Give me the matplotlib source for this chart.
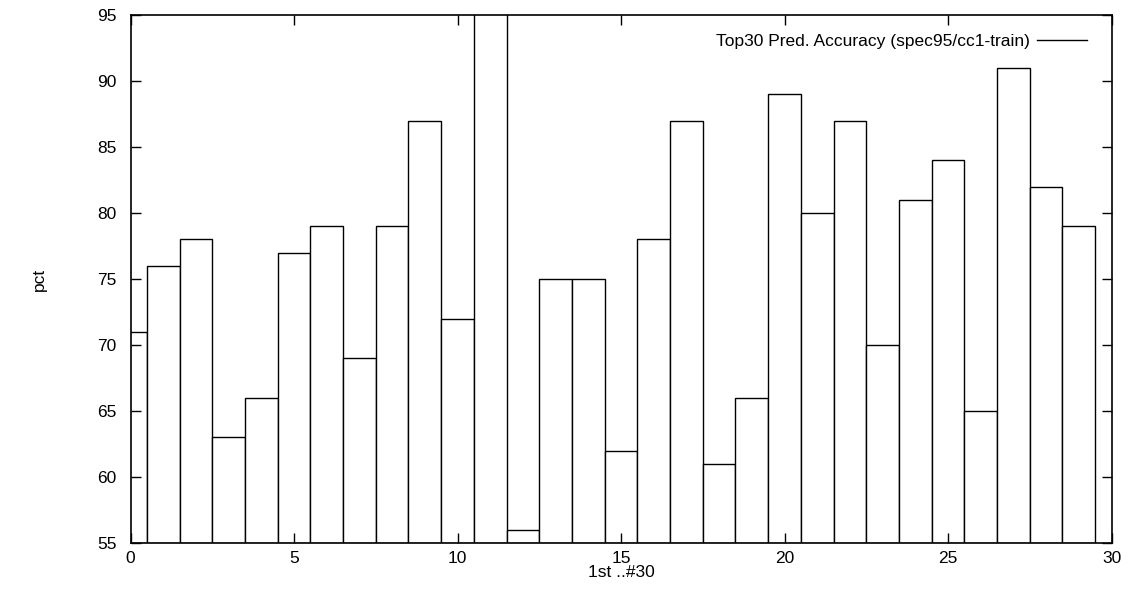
import matplotlib
matplotlib.use("Agg")
import matplotlib.pyplot as plt
from matplotlib.lines import Line2D

plt.rcParams['font.family'] = ['Liberation Sans', 'DejaVu Sans']

positions = list(range(30))
values = [71, 76, 78, 63, 66, 77, 79, 69, 79, 87, 72, 96, 56, 75, 75,
          62, 78, 87, 61, 66, 89, 80, 87, 70, 81, 84, 65, 91, 82, 79]
series_label = "Top30 Pred. Accuracy (spec95/cc1-train)"
xticks = [0, 5, 10, 15, 20, 25, 30]
yticks = [55, 60, 65, 70, 75, 80, 85, 90, 95]

FS = 12.5

fig = plt.figure(figsize=(11.29, 5.9), dpi=100)
ax = fig.add_axes([0.1156, 0.0797, 0.8689, 0.8949])

ax.bar(positions, [v - 55 for v in values], bottom=55, width=1.0,
       facecolor='white', edgecolor='black', linewidth=1.0)

ax.set_xlim(0, 30)
ax.set_ylim(55, 95)
ax.set_xticks(xticks)
ax.set_yticks(yticks)
ax.tick_params(direction='in', length=7, width=1, top=True, right=True,
               labelsize=FS)
ax.tick_params(axis='x', pad=6)
ax.tick_params(axis='y', pad=10)
for s in ax.spines.values():
    s.set_linewidth(1.2)

ax.set_xlabel("1st ..#30", fontsize=FS, labelpad=-1)
ax.set_ylabel("pct", fontsize=FS, labelpad=36)

handle = Line2D([], [], color='black', linewidth=1.0)
ax.legend([handle], [series_label], loc='upper right', frameon=False,
          markerfirst=False, fontsize=FS, handlelength=2.9,
          borderpad=0, borderaxespad=0,
          bbox_to_anchor=(0.975, 0.964), handletextpad=0.4)

fig.savefig("out.png", dpi=100)
